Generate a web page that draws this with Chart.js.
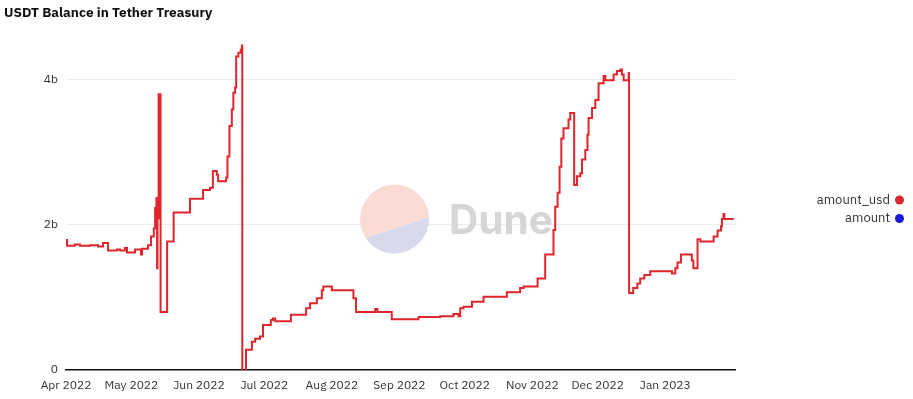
<!DOCTYPE html>
<html>
<head>
<meta charset="utf-8">
<script src="https://cdn.jsdelivr.net/npm/chart.js@4"></script>
<style>
  html, body { margin: 0; padding: 0; background: #fff; }
  #wrap { width: 913px; height: 399px; }
</style>
</head>
<body>
<div id="wrap"><canvas id="chart" width="913" height="399"></canvas></div>
<script>
// days since 2022-04-01, balance in billions of USD
const dayOffset = [
    0, 0.5, 4, 6.4, 11, 14.7, 17, 19.3, 23.4, 24.8, 27, 28, 31.7, 34.4, 34.9,
    37.6, 39.0, 40.3, 40.9, 41.5, 41.8, 42.0, 42.5, 43.4, 46.4, 49.4, 56.9,
    62.9, 66.1, 67.4, 69.2, 69.8, 73.5, 74.1, 75.0, 76.1, 76.8, 77.6, 78.1,
    79.1, 80.2, 80.7, 80.9, 82.6, 85.3, 86.8, 89.0, 90.4, 94.0, 95.0, 96.0,
    103.2, 110.2, 112.0, 115.1, 117.4, 118.1, 122.0, 131.9, 133.1, 141.9,
    142.9, 149.5, 161.8, 171.7, 177.8, 180.1, 180.9, 182.4, 186.3, 191.6,
    202.3, 208.4, 210.0, 216.4, 219.9, 223.7, 224.5, 225.6, 226.5, 227.3,
    228.3, 230.6, 231.4, 233.2, 234.5, 236.0, 236.8, 238.3, 239.3, 239.8,
    241.4, 242.9, 244.4, 246.7, 247.5, 251.3, 252.8, 254.4, 255.1, 255.9,
    258.2, 258.4, 260.3, 262.2, 263.5, 265.4, 268.1, 278.1, 279.6, 280.6,
    282.2, 287.2, 287.9, 289.8, 291.1, 297.2, 299.0, 300.6, 301.0, 301.7,
    302.1, 306.4
];
const amountUsd = [
    1.79, 1.71, 1.73, 1.71, 1.72, 1.70, 1.75, 1.645, 1.66, 1.645, 1.68, 1.62, 1.66, 1.59, 1.67,
    1.72, 1.84, 1.95, 2.23, 2.37, 1.40, 2.09, 3.80, 0.80, 1.77, 2.17, 2.36,
    2.48, 2.51, 2.74, 2.69, 2.60, 2.65, 2.94, 3.36, 3.59, 3.82, 3.89, 4.32,
    4.37, 4.41, 4.47, -0.02, 0.28, 0.39, 0.43, 0.46, 0.62, 0.69, 0.71, 0.67,
    0.76, 0.85, 0.92, 0.99, 1.10, 1.15, 1.10, 0.99, 0.80, 0.84,
    0.80, 0.70, 0.73, 0.74, 0.77, 0.74, 0.85, 0.87, 0.94, 1.01,
    1.07, 1.13, 1.15, 1.26, 1.59, 1.93, 2.25, 2.44, 2.80, 3.19,
    3.33, 3.45, 3.54, 2.55, 2.67, 2.71, 2.90, 3.03, 3.24, 3.47,
    3.61, 3.72, 3.95, 4.05, 3.99, 4.07, 4.12, 4.14, 4.07, 3.99,
    4.09, 1.06, 1.13, 1.19, 1.26, 1.31, 1.36, 1.33, 1.40, 1.48,
    1.59, 1.51, 1.40, 1.80, 1.77, 1.84, 1.92, 1.98, 2.08, 2.15,
    2.08, 2.08
];
const monthStarts = [0, 30, 61, 91, 122, 153, 183, 214, 244, 275];
const monthLabels = ['Apr 2022', 'May 2022', 'Jun 2022', 'Jul 2022', 'Aug 2022',
    'Sep 2022', 'Oct 2022', 'Nov 2022', 'Dec 2022', 'Jan 2023'];
const yTicks = [0, 2, 4];

const FONT = "'IBM Plex Sans', Inter, 'Noto Sans', sans-serif";

// faint Dune logo behind the line
const watermark = {
    id: 'watermark',
    beforeDatasetsDraw(chart) {
        const ctx = chart.ctx;
        const cx = 394.5, cy = 219, r = 34.5;
        const a1 = -2.5 * Math.PI / 180, a2 = 147 * Math.PI / 180;
        ctx.save();
        ctx.beginPath();
        ctx.arc(cx, cy, r, a2, a1 + 2 * Math.PI);
        ctx.closePath();
        ctx.fillStyle = '#fbdcd5';
        ctx.fill();
        ctx.beginPath();
        ctx.arc(cx, cy, r, a1, a2);
        ctx.closePath();
        ctx.fillStyle = '#d8d9eb';
        ctx.fill();
        let size = 44;
        ctx.font = 'bold ' + size + 'px Inter, sans-serif';
        size = size * 104 / ctx.measureText('Dune').width;
        ctx.font = 'bold ' + size + 'px Inter, sans-serif';
        ctx.fillStyle = '#d6d6d6';
        ctx.textBaseline = 'alphabetic';
        ctx.fillText('Dune', 449, 234);
        ctx.restore();
    }
};

// legend on the right: label then dot
const sideLegend = {
    id: 'sideLegend',
    afterDraw(chart) {
        const ctx = chart.ctx;
        ctx.save();
        ctx.font = '13px ' + FONT;
        ctx.textAlign = 'right';
        ctx.textBaseline = 'middle';
        chart.data.datasets.forEach((ds, i) => {
            const y = 200 + i * 18.5;
            ctx.fillStyle = '#333';
            ctx.fillText(ds.label, 890, y);
            ctx.beginPath();
            ctx.arc(899.5, y, 4.5, 0, Math.PI * 2);
            ctx.fillStyle = ds.borderColor;
            ctx.fill();
        });
        ctx.restore();
    }
};

new Chart(document.getElementById('chart'), {
    type: 'line',
    data: {
        datasets: [{
            label: 'amount_usd',
            data: dayOffset.map((d, i) => ({ x: d, y: amountUsd[i] })),
            borderColor: '#e0262d',
            backgroundColor: '#e0262d',
            borderWidth: 2,
            pointRadius: 0,
            stepped: true,
        }, {
            label: 'amount',
            data: [],
            borderColor: '#1a1adf',
            backgroundColor: '#1a1adf',
            pointRadius: 0,
        }]
    },
    options: {
        responsive: false,
        animation: false,
        layout: { padding: { left: 4, right: 178, top: 0, bottom: 0 } },
        plugins: {
            legend: { display: false },
            tooltip: { enabled: false },
            title: {
                display: true,
                text: 'USDT Balance in Tether Treasury',
                align: 'start',
                color: '#111',
                font: { family: FONT, size: 13.6, weight: 'bold' },
                padding: { top: 5, bottom: 22 }
            }
        },
        scales: {
            x: {
                type: 'linear',
                min: 0,
                max: 307,
                grid: { display: false, drawTicks: false },
                border: { display: true, color: '#111', width: 1.5 },
                afterBuildTicks: (axis) => { axis.ticks = monthStarts.map(v => ({ value: v })); },
                afterFit: (axis) => { axis.height = 29; },
                ticks: {
                    autoSkip: false,
                    maxRotation: 0,
                    padding: 8,
                    color: '#333',
                    font: { family: FONT, size: 12 },
                    callback: (v) => monthLabels[monthStarts.indexOf(v)]
                }
            },
            y: {
                min: 0,
                max: 4.5,
                border: { display: false },
                grid: {
                    drawTicks: false,
                    color: (c) => c.tick && c.tick.value === 0 ? 'rgba(0,0,0,0)' : '#ececec'
                },
                afterBuildTicks: (axis) => { axis.ticks = yTicks.map(v => ({ value: v })); },
                afterFit: (axis) => { axis.width = 62; },
                ticks: {
                    padding: 8,
                    color: '#333',
                    font: { family: FONT, size: 12 },
                    callback: (v) => v === 0 ? '0' : v + 'b'
                }
            }
        }
    },
    plugins: [watermark, sideLegend]
});
</script>
</body>
</html>
